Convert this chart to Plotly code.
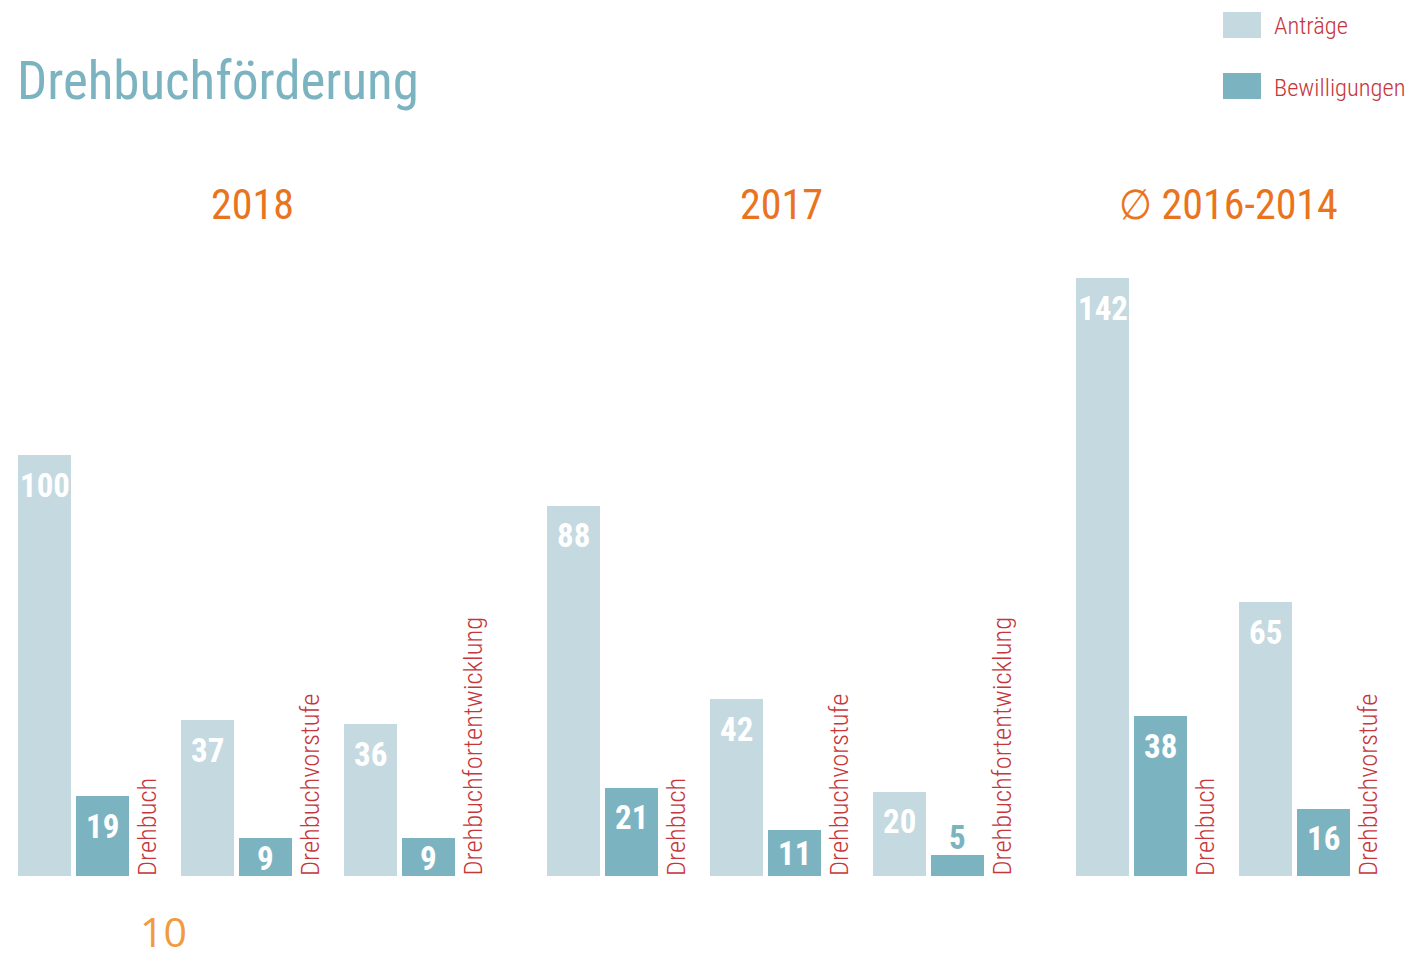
import plotly.graph_objects as go

# ---- data ----
groups = ["2018", "2017", "∅ 2016-2014"]
categories_2018 = ["Drehbuch", "Drehbuchvorstufe", "Drehbuchfortentwicklung"]
categories_2017 = ["Drehbuch", "Drehbuchvorstufe", "Drehbuchfortentwicklung"]
categories_avg = ["Drehbuch", "Drehbuchvorstufe"]
antraege_2018 = [100, 37, 36]
bewilligungen_2018 = [19, 9, 9]
antraege_2017 = [88, 42, 20]
bewilligungen_2017 = [21, 11, 5]
antraege_avg = [142, 65]
bewilligungen_avg = [38, 16]

title_text = "Drehbuchförderung"
legend_names = ["Anträge", "Bewilligungen"]
page_number = "10"

# ---- styling / layout constants ----
OFF = 8                     # page body margin
PW, PH = 1417, 956
W, H = PW - OFF, PH - OFF
LIGHT = "#c4d9e0"
DARK = "#7bb4c0"
RED = "#c6363b"
ORANGE = "#ea741d"
PAGE_ORANGE = "#f19a3e"
NARROW = "Roboto Condensed, DejaVu Sans Condensed, sans-serif"

BASE_PX = 876 - OFF
PX_PER_UNIT = 4.21
X_START = 18 - OFF
BAR_W = 53
BAR_GAP = 5
PAIR_PITCH = 163
GROUP_EXTRA = 40

def px(x):
    return (x - OFF) / W

def py(y):
    return 1 - (y - OFF) / H

y_top = BASE_PX / PX_PER_UNIT
y_bottom = -(H - BASE_PX) / PX_PER_UNIT

data_groups = [
    (categories_2018, antraege_2018, bewilligungen_2018),
    (categories_2017, antraege_2017, bewilligungen_2017),
    (categories_avg, antraege_avg, bewilligungen_avg),
]

xs_light, ys_light, xs_dark, ys_dark = [], [], [], []
annotations = []
pair_index = 0
for g, (cats, a_vals, b_vals) in enumerate(data_groups):
    g_left = None
    g_right = None
    for k, cat in enumerate(cats):
        left = X_START + pair_index * PAIR_PITCH + g * GROUP_EXTRA
        xl = left + BAR_W / 2
        xd = left + BAR_W + BAR_GAP + BAR_W / 2
        xlab = left + 2 * BAR_W + BAR_GAP + 17
        xs_light.append(xl); ys_light.append(a_vals[k])
        xs_dark.append(xd); ys_dark.append(b_vals[k])
        if g_left is None:
            g_left = left
        g_right = xlab + 14
        for xv, v in ((xl, a_vals[k]), (xd, b_vals[k])):
            h = v * PX_PER_UNIT
            inside = h > 30
            if inside:
                ann = dict(yanchor="middle", yshift=-min(29, h / 2) - 1, color="white")
            else:
                ann = dict(yanchor="bottom", yshift=-4, color=DARK)
            annotations.append(dict(
                x=xv, y=v, xref="x", yref="y", text=str(v), showarrow=False,
                yanchor=ann["yanchor"], yshift=ann["yshift"],
                font=dict(family=NARROW, size=33, color=ann["color"], weight="bold")))
        annotations.append(dict(
            x=xlab, y=0, xref="x", yref="y", text=cat, showarrow=False,
            textangle=-90, xanchor="center", yanchor="bottom", yshift=-2,
            font=dict(family=NARROW, size=26.5, color=RED, weight=300)))
        pair_index += 1
    annotations.append(dict(
        x=(g_left + g_right) / 2, y=py(205), xref="x", yref="paper",
        text=groups[g], showarrow=False, yanchor="middle",
        font=dict(family=NARROW, size=42, color=ORANGE)))

fig = go.Figure()
fig.add_trace(go.Bar(x=xs_light, y=ys_light, width=BAR_W, marker=dict(color=LIGHT, line=dict(width=0)),
                     name=legend_names[0], showlegend=False, hoverinfo="y"))
fig.add_trace(go.Bar(x=xs_dark, y=ys_dark, width=BAR_W, marker=dict(color=DARK, line=dict(width=0)),
                     name=legend_names[1], showlegend=False, hoverinfo="y"))

annotations.append(dict(x=px(15), y=py(81), xref="paper", yref="paper", text=title_text,
                        showarrow=False, xanchor="left", yanchor="middle",
                        font=dict(family=NARROW, size=53, color=DARK)))
shapes = []
for i, (name, col) in enumerate(zip(legend_names, [LIGHT, DARK])):
    yc = 25 + i * 61
    shapes.append(dict(type="rect", xref="paper", yref="paper",
                       x0=px(1223), x1=px(1261), y0=py(yc - 13), y1=py(yc + 13),
                       fillcolor=col, line=dict(width=0)))
    annotations.append(dict(x=px(1272), y=py(yc + 1), xref="paper", yref="paper", text=name,
                            showarrow=False, xanchor="left", yanchor="middle",
                            font=dict(family=NARROW, size=24.5, color=RED, weight=300)))
annotations.append(dict(x=px(163), y=py(931), xref="paper", yref="paper", text=page_number,
                        showarrow=False, xanchor="center", yanchor="middle",
                        font=dict(family="Open Sans", size=41, color=PAGE_ORANGE)))

fig.update_layout(
    width=W, height=H, margin=dict(l=0, r=0, t=0, b=0),
    paper_bgcolor="white", plot_bgcolor="white",
    barmode="overlay", bargap=0,
    xaxis=dict(range=[0, W], visible=False, fixedrange=True),
    yaxis=dict(range=[y_bottom, y_top], visible=False, fixedrange=True),
    annotations=annotations, shapes=shapes,
)
fig.write_html("out.html")
